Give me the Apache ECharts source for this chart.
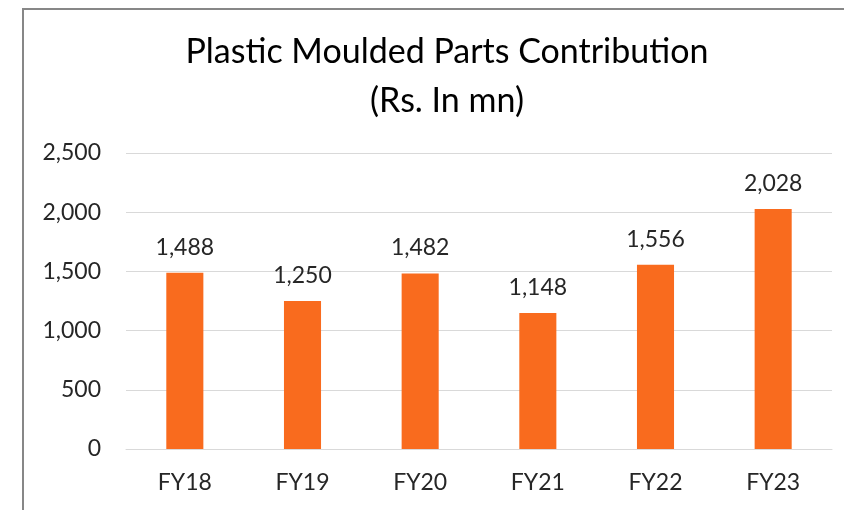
<!DOCTYPE html>
<html>
<head>
<meta charset="utf-8">
<script src="https://cdn.jsdelivr.net/npm/echarts@6/dist/echarts.min.js"></script>
<style>
  html, body { margin: 0; padding: 0; background: #fff; }
  #chart { width: 844px; height: 510px; }
  #frame { position: absolute; left: 22px; top: 8px; width: 840px; height: 520px;
           border-left: 2px solid #878787; border-top: 2px solid #878787; pointer-events: none; }
</style>
</head>
<body>
<div id="chart"></div>
<div id="frame"></div>
<script>
const categories = ['FY18', 'FY19', 'FY20', 'FY21', 'FY22', 'FY23'];
const contribution = [1488, 1250, 1482, 1148, 1556, 2028];
const titleLines = ['Plastic Moulded Parts Contribution', '(Rs. In mn)'];

const FONT = 'Lato';
const fmt = v => Number(v).toLocaleString('en-US');

const chart = echarts.init(document.getElementById('chart'), null, { renderer: 'canvas' });
chart.setOption({
  animation: false,
  backgroundColor: '#ffffff',
  title: {
    text: titleLines.join('\n'),
    left: 442,
    textAlign: 'center',
    top: 23,
    textStyle: { fontFamily: FONT, fontSize: 34, fontWeight: 'normal', color: '#000', lineHeight: 49 }
  },
  grid: { left: 126, right: 12, top: 153, bottom: 61, containLabel: false },
  xAxis: {
    type: 'category',
    data: categories,
    axisLine: { show: true, lineStyle: { color: '#d9d9d9', width: 1 } },
    axisTick: { show: false },
    axisLabel: { fontFamily: FONT, fontSize: 23, color: '#262626', margin: 22 }
  },
  yAxis: {
    type: 'value',
    min: 0, max: 2500, interval: 500,
    axisLine: { show: false },
    axisTick: { show: false },
    splitLine: { lineStyle: { color: '#d9d9d9', width: 1 } },
    axisLabel: { fontFamily: FONT, fontSize: 23, color: '#262626', margin: 25, formatter: fmt }
  },
  series: [{
    type: 'bar',
    data: contribution,
    barWidth: '31.5%',
    itemStyle: { color: '#F96B1E' },
    label: {
      show: true, position: 'top', distance: 14,
      fontFamily: FONT, fontSize: 23, color: '#262626',
      formatter: p => fmt(p.value)
    }
  }]
});
</script>
</body>
</html>
